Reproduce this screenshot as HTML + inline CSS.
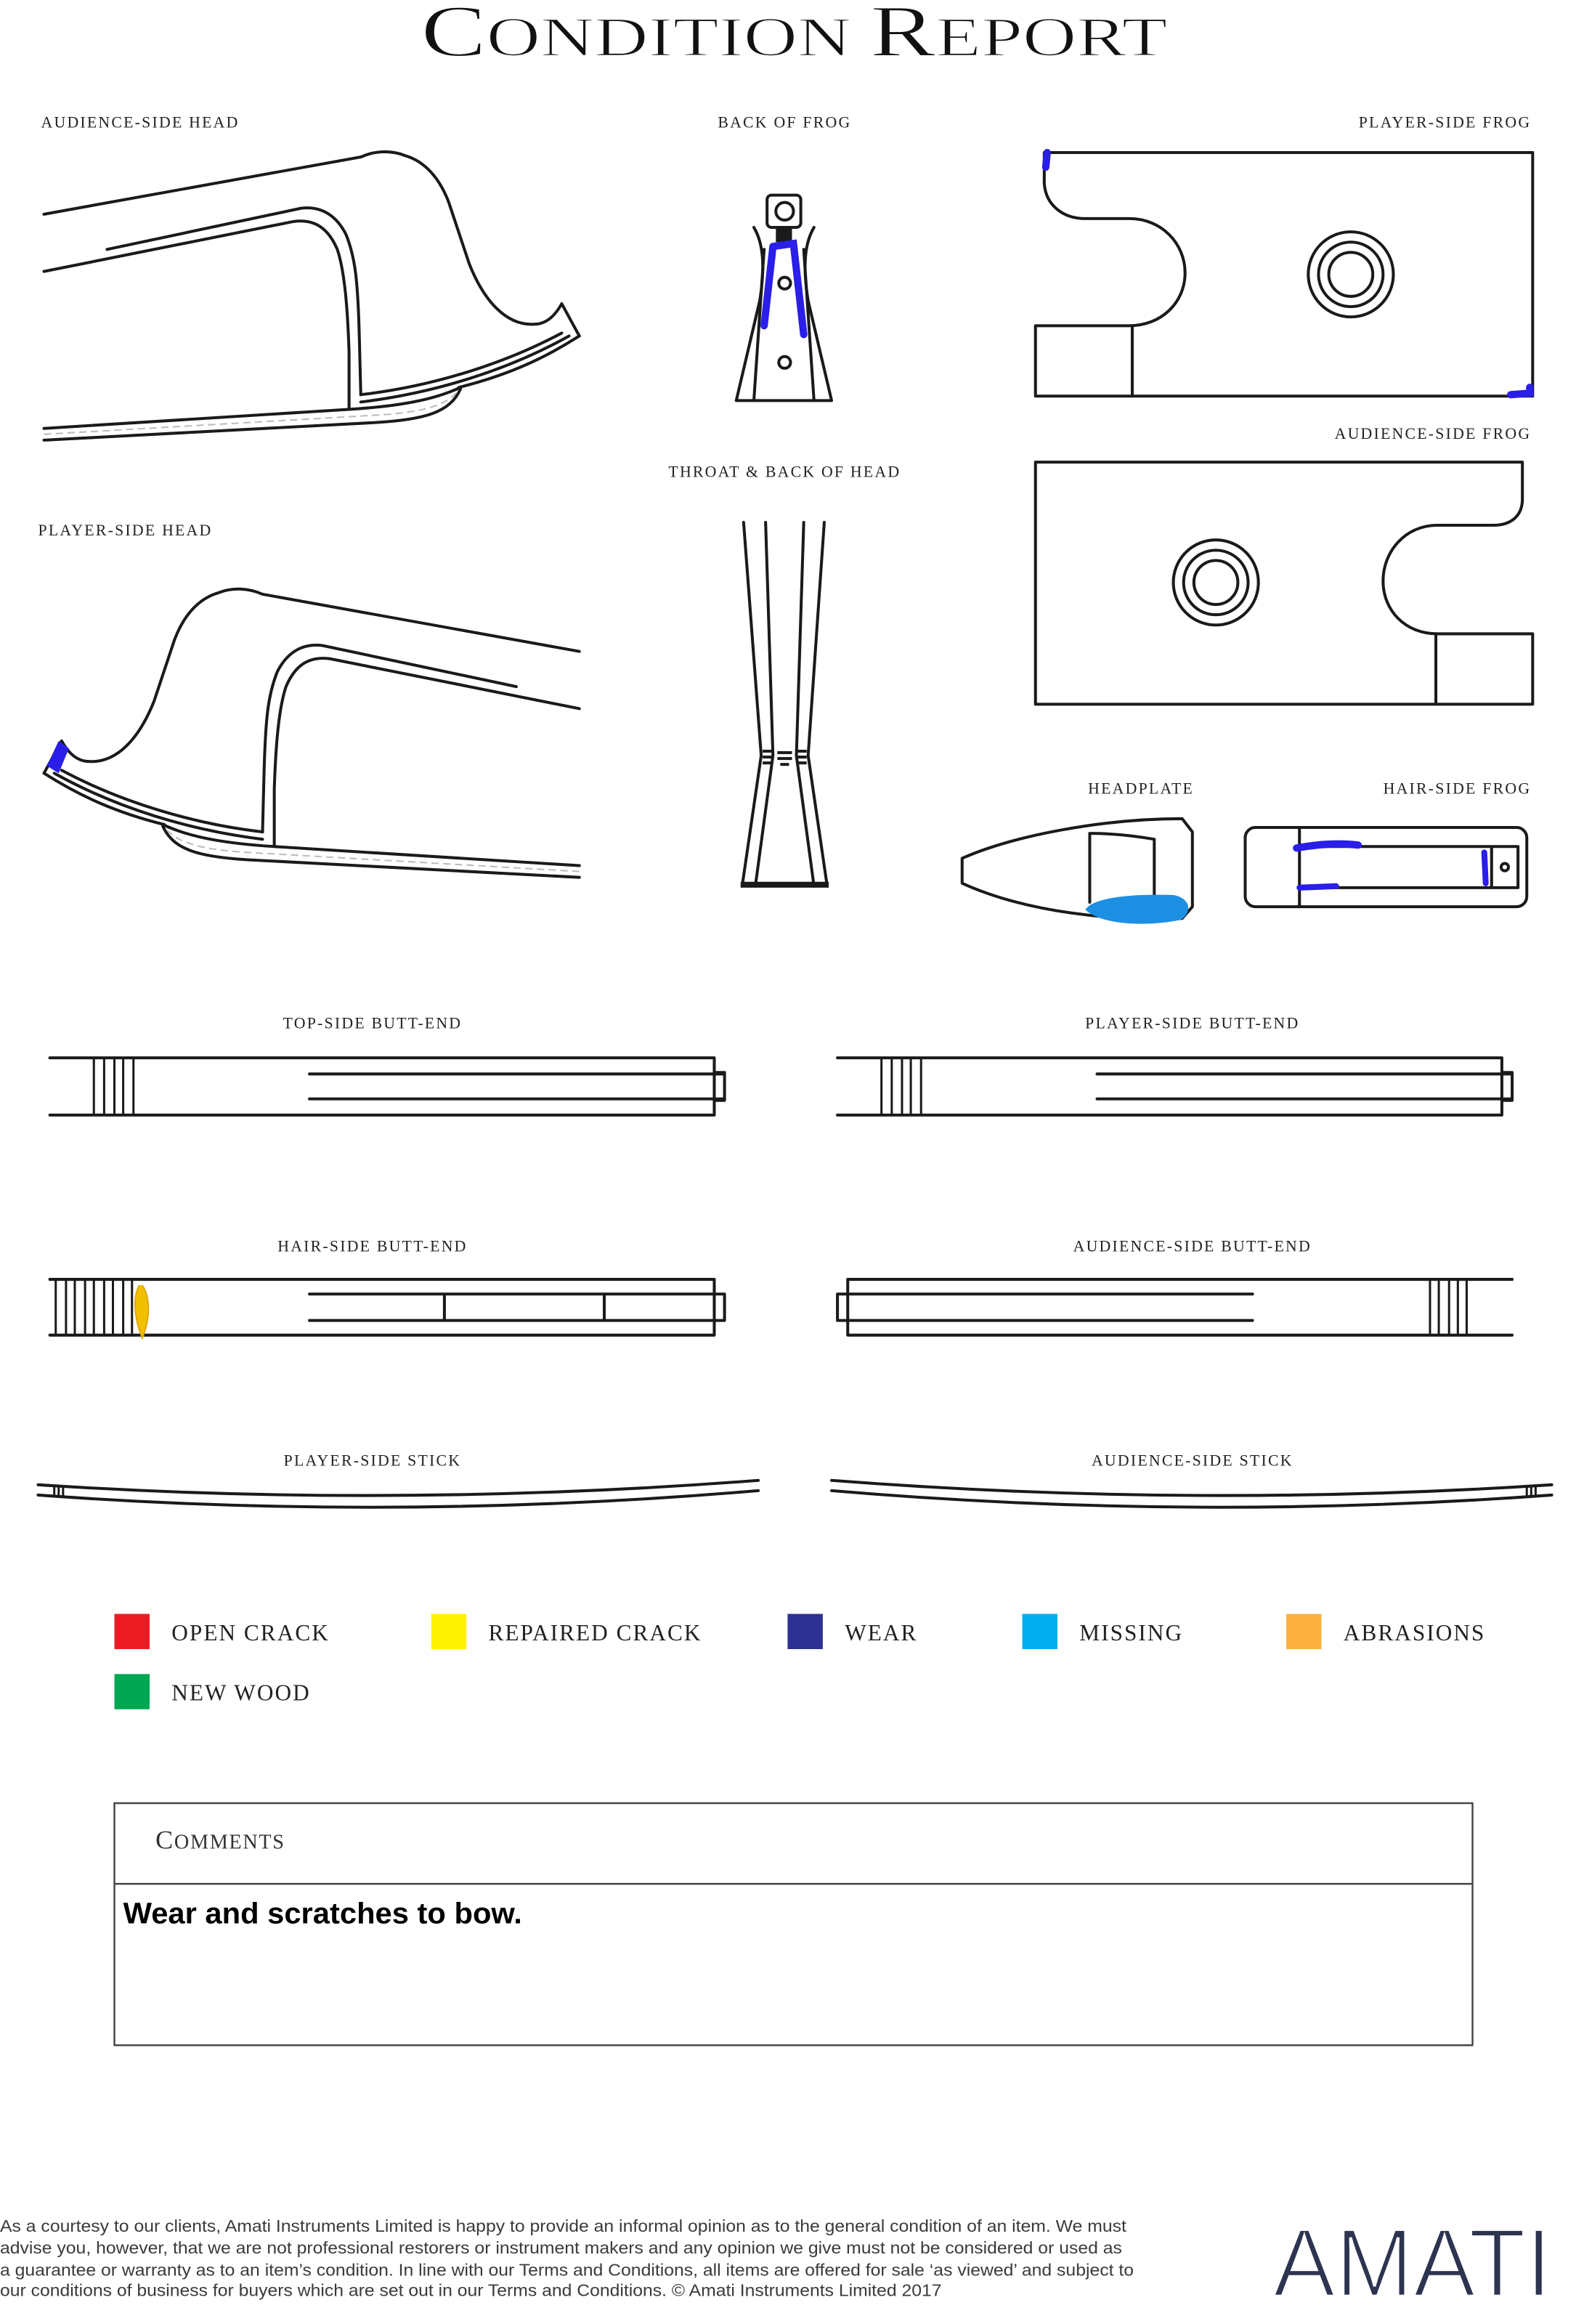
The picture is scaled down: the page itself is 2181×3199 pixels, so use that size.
<!DOCTYPE html>
<html><head><meta charset="utf-8"><style>
html,body{margin:0;padding:0;background:#fff;}
svg{display:block;}
.l{font-family:"Liberation Serif",serif;font-size:10.8px;fill:#222;letter-spacing:1.1px;}
.k{fill:none;stroke:#1a1a1a;stroke-width:2;stroke-linejoin:round;stroke-linecap:round;}
.t{fill:none;stroke:#1a1a1a;stroke-width:1.5;}
.lg{font-family:"Liberation Serif",serif;font-size:15.5px;fill:#222;letter-spacing:1px;}
.ft{font-family:"Liberation Sans",sans-serif;font-size:11.6px;fill:#3a3a3a;}
</style></head><body>
<svg width="2181" height="3199" viewBox="0 0 1080 1584" preserveAspectRatio="none" xmlns="http://www.w3.org/2000/svg">
<rect width="1080" height="1584" fill="#fff"/>
<text x="287" y="38" font-family="Liberation Serif,serif" fill="#111" stroke="#fff" stroke-width="0.8" paint-order="normal" textLength="509" lengthAdjust="spacingAndGlyphs"><tspan font-size="50">C</tspan><tspan font-size="38">ONDITION </tspan><tspan font-size="50">R</tspan><tspan font-size="38">EPORT</tspan></text>

<text class="l" x="28" y="87">AUDIENCE-SIDE HEAD</text>
<text class="l" x="535" y="87" text-anchor="middle">BACK OF FROG</text>
<text class="l" x="1044" y="87" text-anchor="end">PLAYER-SIDE FROG</text>
<text class="l" x="1044" y="299" text-anchor="end">AUDIENCE-SIDE FROG</text>
<text class="l" x="535" y="325" text-anchor="middle">THROAT &amp; BACK OF HEAD</text>
<text class="l" x="26" y="365">PLAYER-SIDE HEAD</text>
<text class="l" x="778" y="541" text-anchor="middle">HEADPLATE</text>
<text class="l" x="1044" y="541" text-anchor="end">HAIR-SIDE FROG</text>
<text class="l" x="254" y="701" text-anchor="middle">TOP-SIDE BUTT-END</text>
<text class="l" x="813" y="701" text-anchor="middle">PLAYER-SIDE BUTT-END</text>
<text class="l" x="254" y="853" text-anchor="middle">HAIR-SIDE BUTT-END</text>
<text class="l" x="813" y="853" text-anchor="middle">AUDIENCE-SIDE BUTT-END</text>
<text class="l" x="254" y="999" text-anchor="middle">PLAYER-SIDE STICK</text>
<text class="l" x="813" y="999" text-anchor="middle">AUDIENCE-SIDE STICK</text>

<g id="head">
<path class="k" d="M30 146 L246 107 C255 103 266 102 276 106 C290 110 300 122 306 138 L320 180 C330 205 345 222 364 221 C372 221 378 216 383 207 L395 229"/>
<path class="k" d="M73 170 L205 142 C220 140 230 148 236 160 C242 175 244 190 245 230 L246 269"/>
<path class="k" d="M30 185 L200 151 C215 149 224 156 230 170 C235 185 237 210 238 240 L238 278"/>
<path class="k" d="M383 227 C340 250 290 264 246 269"/>
<path class="k" d="M388 229 C345 253 295 268 246 274"/>
<path class="k" d="M395 229 C370 245 345 256 313 264"/>
<path class="k" d="M30 292 L238 279 C270 277 295 273 314 264"/>
<path class="k" d="M30 300 L256 288 C290 286 307 281 314 265"/>
<path d="M30 296 L256 283 C290 281 303 276 311 268" fill="none" stroke="#bbb" stroke-width="1" stroke-dasharray="5 3"/>
</g>
<g transform="translate(425,298) scale(-1,1)">
<path class="k" d="M30 146 L246 107 C255 103 266 102 276 106 C290 110 300 122 306 138 L320 180 C330 205 345 222 364 221 C372 221 378 216 383 207 L395 229"/>
<path class="k" d="M73 170 L205 142 C220 140 230 148 236 160 C242 175 244 190 245 230 L246 269"/>
<path class="k" d="M30 185 L200 151 C215 149 224 156 230 170 C235 185 237 210 238 240 L238 278"/>
<path class="k" d="M383 227 C340 250 290 264 246 269"/>
<path class="k" d="M388 229 C345 253 295 268 246 274"/>
<path class="k" d="M395 229 C370 245 345 256 313 264"/>
<path class="k" d="M30 292 L238 279 C270 277 295 273 314 264"/>
<path class="k" d="M30 300 L256 288 C290 286 307 281 314 265"/>
<path d="M30 296 L256 283 C290 281 303 276 311 268" fill="none" stroke="#bbb" stroke-width="1" stroke-dasharray="5 3"/>
</g>
<path d="M32 522 L40 505 L47 510 L40 527 Z" fill="#2a1ee8"/>

<rect x="523" y="133" width="23" height="22" rx="3" class="k"/>
<circle cx="535" cy="144" r="6" class="k"/>
<rect x="529" y="155" width="11" height="10" fill="#1a1a1a"/>
<path class="k" d="M514 155 C520 165 522 180 518 205 L502 273 L567 273 L551 205 C547 180 549 165 555 155"/>
<path class="k" d="M521 170 L514 273 M548 170 L555 273"/>
<circle cx="535" cy="193" r="4" class="k"/>
<circle cx="535" cy="247" r="4" class="k"/>
<path d="M527 168 L521 222 M527 168 L541 166 L548 228" fill="none" stroke="#2a1ee8" stroke-width="5" stroke-linecap="round"/>

<path class="k" d="M712 104 L1045 104 L1045 270 L706 270 L706 222 L770 222 C792 222 808 206 808 186 C808 166 792 149 770 149 L740 149 C725 149 713 140 712 125 Z"/>
<line class="k" x1="772" y1="222" x2="772" y2="270"/>
<circle cx="921" cy="187" r="29" class="k"/><circle cx="921" cy="187" r="22" class="k"/><circle cx="921" cy="187" r="15" class="k"/>
<path d="M714 104 L713 114" stroke="#2a1ee8" stroke-width="5" stroke-linecap="round"/>
<path d="M1030 269 L1043 268 L1043 264" fill="none" stroke="#2a1ee8" stroke-width="5" stroke-linecap="round"/>

<path class="k" d="M706 315 L1038 315 L1038 340 C1038 352 1030 358 1018 358 L980 358 C958 358 943 376 943 396 C943 416 958 432 980 432 L1045 432 L1045 480 L706 480 Z"/>
<line class="k" x1="979" y1="432" x2="979" y2="480"/>
<circle cx="829" cy="397" r="29" class="k"/><circle cx="829" cy="397" r="22" class="k"/><circle cx="829" cy="397" r="15" class="k"/>

<path class="k" d="M507 356 L519 515 L506 604 M522 356 L527 515 L515 604 M562 356 L551 515 L564 604 M548 356 L543 515 L555 604"/>
<rect x="505" y="601" width="60" height="4" fill="#1a1a1a"/>
<g fill="#1a1a1a"><rect x="520" y="511" width="6" height="2"/><rect x="520" y="515" width="6" height="2"/><rect x="520" y="519" width="6" height="2"/><rect x="530" y="512" width="10" height="2"/><rect x="530" y="516" width="10" height="2"/><rect x="532" y="520" width="6" height="2"/><rect x="544" y="511" width="6" height="2"/><rect x="544" y="515" width="6" height="2"/><rect x="544" y="519" width="6" height="2"/></g>

<path class="k" d="M656 585 C690 570 750 558 806 558 L813 567 L813 618 L806 626 C760 628 700 622 656 602 Z"/>
<path class="k" d="M743 615 L743 568 C760 568 775 570 787 572 L787 612"/>
<path d="M740 620 C745 612 770 609 800 610 C812 612 813 622 805 627 C780 632 750 630 740 620 Z" fill="#1c8fe3"/>

<rect x="849" y="564" width="192" height="54" rx="7" class="k"/>
<path class="k" d="M886 564 L886 618 M886 577 L1035 577 L1035 605 L886 605 M1017 577 L1017 605"/>
<circle cx="1026" cy="591" r="2.5" class="k" stroke-width="1.5"/>
<path d="M884 578 C895 576 910 574 926 576" stroke="#2a1ee8" stroke-width="5" fill="none" stroke-linecap="round"/>
<path d="M886 605 L911 604" stroke="#2a1ee8" stroke-width="4" stroke-linecap="round"/>
<path d="M1012 581 L1013 602" stroke="#2a1ee8" stroke-width="4" stroke-linecap="round"/>

<g id="be">
<path class="k" d="M34 721 L487 721 L487 760 L34 760 M487 731 L494 731 L494 750 L487 750 M211 732 L494 732 M211 749 L494 749"/>
<path class="t" d="M64 721 V760 M71 721 V760 M78 721 V760 M84 721 V760 M91 721 V760"/>
</g>
<use href="#be" transform="translate(537,0)"/>

<path class="k" d="M34 872 L487 872 L487 910 L34 910 M487 882 L494 882 L494 900 L487 900 M211 882 L494 882 M211 900 L494 900 M303 882 V900 M412 882 V900"/>
<path class="t" d="M38 872 V910 M45 872 V910 M51 872 V910 M58 872 V910 M64 872 V910 M71 872 V910 M77 872 V910 M84 872 V910 M90 872 V910"/>
<path d="M95 876 C90 885 92 900 97 912 C102 900 103 885 97 876" fill="#f2c000" stroke="#e0a800" stroke-width="1"/>

<path class="k" d="M1031 872 L578 872 L578 910 L1031 910 M578 882 L571 882 L571 900 L578 900 M854 882 L571 882 M854 900 L571 900"/>
<path class="t" d="M975 872 V910 M981 872 V910 M988 872 V910 M994 872 V910 M1000 872 V910"/>

<path class="k" d="M26 1012 Q270 1028 517 1009 M26 1019 Q270 1037 517 1016"/>
<path class="t" d="M37 1013 V1020 M40 1013 V1020 M43 1013 V1020" stroke-width="1"/>
<path class="k" d="M567 1009 Q814 1028 1058 1012 M567 1016 Q814 1037 1058 1019"/>
<path class="t" d="M1041 1013 V1020 M1044 1013 V1020 M1047 1013 V1020" stroke-width="1"/>

<rect x="78" y="1100" width="24" height="24" fill="#ed1c24"/><text class="lg" x="117" y="1118">OPEN CRACK</text>
<rect x="294" y="1100" width="24" height="24" fill="#fff200"/><text class="lg" x="333" y="1118">REPAIRED CRACK</text>
<rect x="537" y="1100" width="24" height="24" fill="#2e3192"/><text class="lg" x="576" y="1118">WEAR</text>
<rect x="697" y="1100" width="24" height="24" fill="#00aeef"/><text class="lg" x="736" y="1118">MISSING</text>
<rect x="877" y="1100" width="24" height="24" fill="#fbb040"/><text class="lg" x="916" y="1118">ABRASIONS</text>
<rect x="78" y="1141" width="24" height="24" fill="#00a651"/><text class="lg" x="117" y="1159">NEW WOOD</text>

<rect x="78" y="1229" width="926" height="165" fill="none" stroke="#444" stroke-width="1.2"/>
<line x1="78" y1="1284" x2="1004" y2="1284" stroke="#444" stroke-width="1.2"/>
<text x="106" y="1260" font-family="Liberation Serif,serif" fill="#333" letter-spacing="0.8"><tspan font-size="18">C</tspan><tspan font-size="14">OMMENTS</tspan></text>
<text x="84" y="1311" font-family="Liberation Sans,sans-serif" font-size="20" fill="#000" font-weight="bold" textLength="272" lengthAdjust="spacingAndGlyphs">Wear and scratches to bow.</text>

<text class="ft" x="0" y="1521" textLength="768" lengthAdjust="spacingAndGlyphs">As a courtesy to our clients, Amati Instruments Limited is happy to provide an informal opinion as to the general condition of an item. We must</text>
<text class="ft" x="0" y="1536" textLength="765" lengthAdjust="spacingAndGlyphs">advise you, however, that we are not professional restorers or instrument makers and any opinion we give must not be considered or used as</text>
<text class="ft" x="0" y="1551" textLength="773" lengthAdjust="spacingAndGlyphs">a guarantee or warranty as to an item’s condition. In line with our Terms and Conditions, all items are offered for sale ‘as viewed’ and subject to</text>
<text class="ft" x="0" y="1565" textLength="642" lengthAdjust="spacingAndGlyphs">our conditions of business for buyers which are set out in our Terms and Conditions. © Amati Instruments Limited 2017</text>
<text x="868" y="1565" font-family="Liberation Sans,sans-serif" font-size="66" fill="#2d3450" stroke="#fff" stroke-width="2" paint-order="normal" textLength="190" lengthAdjust="spacingAndGlyphs">AMATI</text>
</svg>
</body></html>
